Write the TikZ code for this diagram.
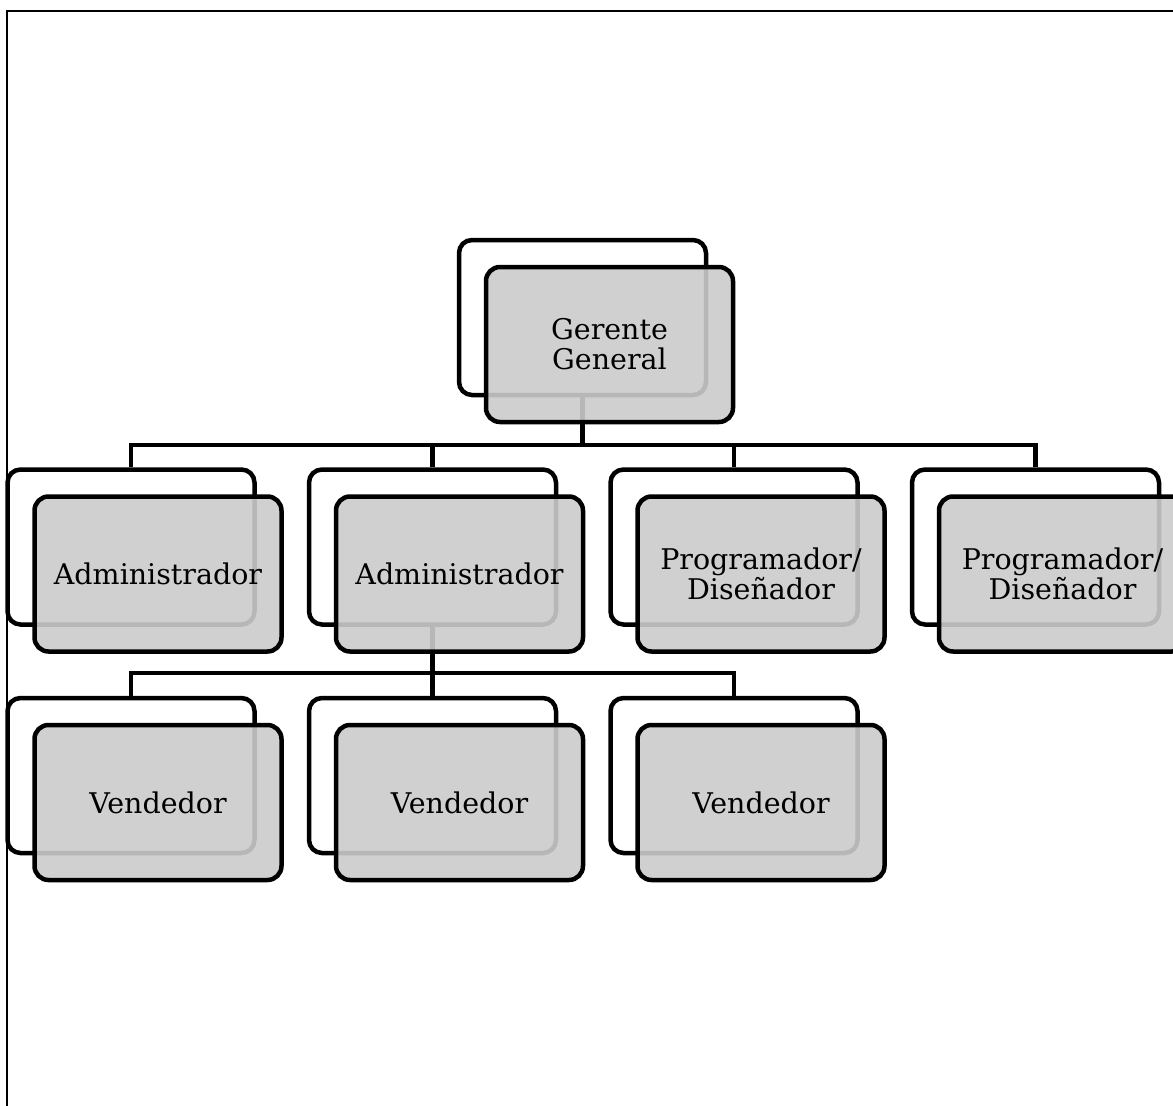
\documentclass[tikz,border=0pt]{standalone}
\usepackage{fontspec}
\setmainfont{DejaVu Serif}
\definecolor{boxgray}{RGB}{203,203,203}
\begin{document}
\begin{tikzpicture}[x=1pt,y=-1pt,
  backbox/.style={draw, line width=4.5pt, rounded corners=13pt, fill=white,
    minimum width=247pt, minimum height=155pt, inner sep=0pt},
  frontbox/.style={draw, line width=4.5pt, rounded corners=14pt, fill=boxgray,
    fill opacity=0.9, text opacity=1, minimum width=247pt, minimum height=155pt,
    inner sep=0pt, align=center, font=\fontsize{28.5}{30}\selectfont},
  conn/.style={line width=4.5pt},
  frame/.style={line width=2.2pt}]
\useasboundingbox (0,0) rectangle (1173,1106);
\draw[frame] (7,1120) -- (7,11) -- (1190,11);
% back boxes
\node[backbox] (gb) at (582.5,317.5) {};
\node[backbox] (b1) at (131,547) {};
\node[backbox] (b2) at (432.5,547) {};
\node[backbox] (b3) at (734,547) {};
\node[backbox] (b4) at (1035.5,547) {};
\node[backbox] (v1) at (131,775.5) {};
\node[backbox] (v2) at (432.5,775.5) {};
\node[backbox] (v3) at (734,775.5) {};
% connectors
\foreach \c in {b1,b2,b3,b4}
  \draw[conn] (gb.south) -- (gb.south |- 0,445) -| (\c.north);
\foreach \c in {v1,v2,v3}
  \draw[conn] (b2.south) -- (b2.south |- 0,673) -| (\c.north);
% front boxes
\node[frontbox] (gf) at (609.5,344.5) {Gerente\\General};
\node[frontbox] (f1) at (158,574) {Administrador};
\node[frontbox] (f2) at (459.5,574) {Administrador};
\node[frontbox] (f3) at (761,574) {Programador/\\Diseñador};
\node[frontbox] (f4) at (1062.5,574) {Programador/\\Diseñador};
\node[frontbox] (w1) at (158,802.5) {Vendedor};
\node[frontbox] (w2) at (459.5,802.5) {Vendedor};
\node[frontbox] (w3) at (761,802.5) {Vendedor};
\end{tikzpicture}
\end{document}
